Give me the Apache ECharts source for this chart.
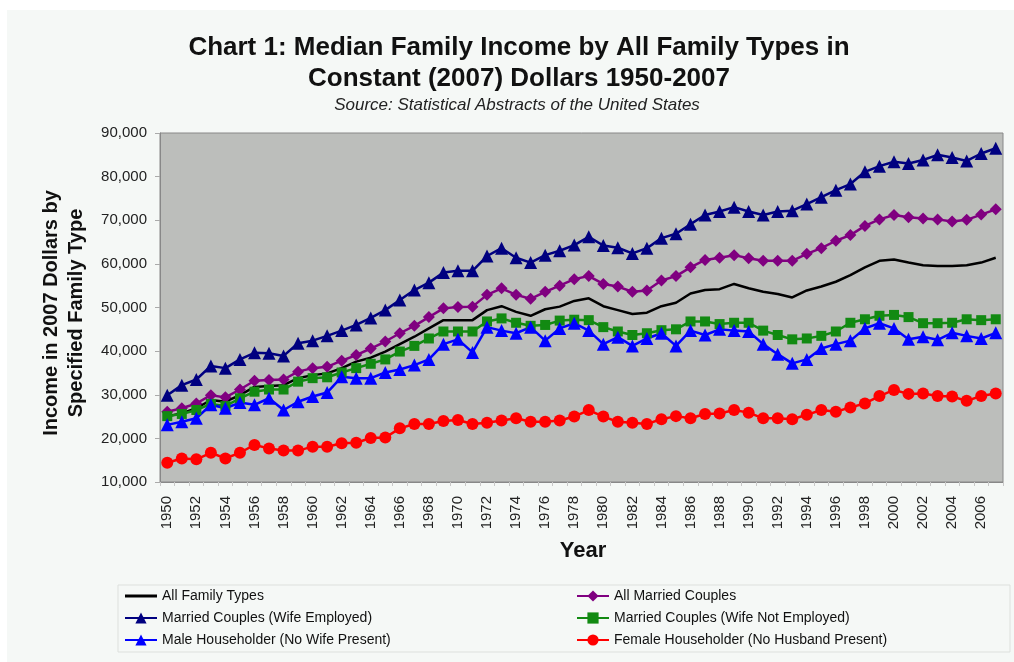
<!DOCTYPE html>
<html>
<head>
<meta charset="utf-8">
<script src="https://cdn.jsdelivr.net/npm/echarts@6/dist/echarts.min.js"></script>
<style>
html,body{margin:0;padding:0;background:#fff;}
#chart{width:1014px;height:662px;}
</style>
</head>
<body>
<div id="chart"></div>
<script>
const years = [];
for (let y = 1950; y <= 2007; y++) years.push(String(y));

const allFamilyTypes = [
  25100, 25700, 26900, 28800, 28400, 29900, 31800, 32000, 32200, 33800,
  34500, 34900, 36100, 37600, 38500, 39900, 41600, 43300, 45200, 47100,
  47100, 47100, 49400, 50300, 49000, 48100, 49600, 50200, 51500, 52100,
  50300, 49400, 48500, 48800, 50300, 51100, 53200, 54000, 54200, 55400,
  54400, 53600, 53100, 52300, 53900, 54800, 55900, 57400, 59200, 60700,
  61000, 60300, 59700, 59500, 59500, 59700, 60300, 61400
];
const allMarried = [
  26100, 26900, 28000, 29900, 29400, 31200, 33200, 33400, 33500, 35300,
  36100, 36400, 37800, 39100, 40600, 42200, 44100, 45800, 47800, 49800,
  50100, 50200, 52900, 54400, 52900, 52000, 53600, 55000, 56500, 57200,
  55400, 54800, 53600, 53900, 56200, 57200, 59200, 60900, 61400, 62000,
  61300, 60700, 60700, 60700, 62300, 63600, 65300, 66600, 68700, 70200,
  71200, 70700, 70400, 70200, 69700, 70100, 71300, 72500
];
const wifeEmployed = [
  29900, 32200, 33500, 36600, 36100, 38100, 39600, 39500, 38900, 41800,
  42400, 43500, 44700, 46000, 47600, 49400, 51700, 54000, 55700, 58000,
  58400, 58400, 61800, 63600, 61400, 60300, 62000, 63000, 64300, 66200,
  64200, 63700, 62400, 63600, 65900, 66900, 69100, 71200, 72000, 73000,
  72000, 71200, 72000, 72200, 73700, 75300, 76900, 78300, 81100, 82400,
  83400, 83000, 83800, 85000, 84400, 83600, 85300, 86500
];
const wifeNotEmployed = [
  25100, 25600, 26500, 27900, 27400, 29200, 30700, 31200, 31200, 33000,
  33800, 34000, 35100, 36100, 37100, 38100, 39900, 41200, 42900, 44500,
  44500, 44500, 46800, 47500, 46500, 45800, 46000, 47000, 47200, 47100,
  45500, 44500, 43700, 44100, 44800, 45000, 46800, 46800, 46200, 46500,
  46500, 44700, 43700, 42700, 42900, 43500, 44500, 46500, 47300, 48100,
  48300, 47800, 46400, 46400, 46500, 47300, 47100, 47300
];
const maleHouseholder = [
  23100, 23800, 24600, 27700, 26900, 28200, 27700, 29200, 26500, 28400,
  29600, 30500, 34100, 33800, 33800, 35100, 35800, 36800, 38100, 41600,
  42700, 39700, 45500, 44700, 44100, 45500, 42400, 45200, 46400, 44700,
  41600, 43200, 41200, 42900, 44100, 41200, 44700, 43700, 45000, 44700,
  44500, 41600, 39300, 37200, 38100, 40600, 41600, 42400, 45200, 46400,
  45200, 42700, 43300, 42600, 44200, 43500, 42900, 44200
];
const femaleHouseholder = [
  14400, 15400, 15200, 16700, 15400, 16700, 18500, 17700, 17200, 17200,
  18100, 18100, 18900, 19000, 20100, 20200, 22300, 23300, 23300, 24000,
  24200, 23300, 23600, 24100, 24600, 23800, 23800, 24100, 25000, 26500,
  25000, 23800, 23600, 23300, 24400, 25100, 24600, 25600, 25700, 26500,
  25900, 24600, 24600, 24400, 25400, 26500, 26100, 27100, 28000, 29700,
  31100, 30200, 30300, 29700, 29600, 28600, 29700, 30300
];

const seriesNames = [
  'All Family Types',
  'All Married Couples',
  'Married Couples (Wife Employed)',
  'Married Couples (Wife Not Employed)',
  'Male Householder (No Wife Present)',
  'Female Householder (No Husband Present)'
];

const FONT = '"Liberation Sans", Arial, sans-serif';

const chart = echarts.init(document.getElementById('chart'), null, {renderer: 'canvas'});

function mk(name, data, color, symbol, size) {
  return {
    name: name, type: 'line', data: data,
    symbol: symbol, symbolSize: size, showSymbol: symbol !== 'none', showAllSymbol: true,
    lineStyle: {color: color, width: 2.5},
    itemStyle: {color: color},
    emphasis: {disabled: true},
    animation: false
  };
}

const legendText = {fontSize: 14, color: '#111', fontFamily: FONT, lineHeight: 14};

chart.setOption({
  animation: false,
  backgroundColor: '#f5f8f6',
  textStyle: {fontFamily: FONT},
  title: [
    {
      text: 'Chart 1: Median Family Income by All Family Types in\nConstant (2007) Dollars 1950-2007',
      left: 519, top: 32, padding: 0, textAlign: 'center',
      textStyle: {fontFamily: FONT, fontSize: 26, fontWeight: 'bold', color: '#111', lineHeight: 31}
    },
    {
      text: 'Source: Statistical Abstracts of the United States',
      left: 517, top: 97, padding: 0, textAlign: 'center',
      textStyle: {fontFamily: FONT, fontSize: 17, fontStyle: 'italic', fontWeight: 'normal', color: '#222'}
    }
  ],
  grid: {
    left: 160, right: 11, top: 133, bottom: 180,
    show: true, backgroundColor: '#bcbebb', borderColor: '#888', borderWidth: 1
  },
  xAxis: {
    type: 'category', data: years, boundaryGap: true,
    axisLine: {lineStyle: {color: '#888'}},
    axisTick: {show: true, interval: 0, length: 4, lineStyle: {color: '#c8c8c8'}},
    axisLabel: {interval: 1, rotate: 90, fontSize: 15, color: '#222', margin: 14, fontFamily: FONT},
    splitLine: {show: false}
  },
  yAxis: {
    type: 'value', min: 10000, max: 90000, interval: 10000,
    axisLine: {show: true, lineStyle: {color: '#888'}},
    axisTick: {show: true, length: 5, lineStyle: {color: '#aaa'}},
    axisLabel: {fontSize: 15, color: '#222', margin: 13, fontFamily: FONT,
      formatter: function (v) { return v.toLocaleString('en-US'); }},
    splitLine: {show: false}
  },
  legend: [
    {
      orient: 'vertical', left: 124, top: 589, padding: 0, itemGap: 8,
      itemWidth: 32, itemHeight: 14, selectedMode: false,
      textStyle: legendText,
      data: [
        {name: seriesNames[0], icon: 'path://M0,0H32V3H0Z'},
        seriesNames[2], seriesNames[4]
      ]
    },
    {
      orient: 'vertical', left: 576, top: 589, padding: 0, itemGap: 8,
      itemWidth: 32, itemHeight: 14, selectedMode: false,
      textStyle: legendText,
      data: [seriesNames[1], seriesNames[3], seriesNames[5]]
    }
  ],
  graphic: [
    {type: 'rect', shape: {x: 0, y: 0, width: 1014, height: 10}, style: {fill: '#ffffff'}, silent: true},
    {type: 'rect', shape: {x: 0, y: 0, width: 7, height: 662}, style: {fill: '#ffffff'}, silent: true},
    {type: 'rect', shape: {x: 118, y: 585, width: 892, height: 67}, style: {fill: 'none', stroke: '#dde0dd', lineWidth: 1}, silent: true},
    {
      type: 'text', x: 64, y: 313, rotation: Math.PI / 2, silent: true,
      style: {
        text: 'Income in 2007 Dollars by\nSpecified Family Type',
        font: 'bold 20px ' + FONT, fill: '#111', textAlign: 'center', textVerticalAlign: 'middle', lineHeight: 25
      }
    },
    {
      type: 'text', x: 583, y: 551, silent: true,
      style: {text: 'Year', font: 'bold 22px ' + FONT, fill: '#111', textAlign: 'center', textVerticalAlign: 'middle'}
    }
  ],
  series: [
    mk(seriesNames[0], allFamilyTypes, '#000000', 'none', 0),
    mk(seriesNames[1], allMarried, '#800080', 'diamond', 12),
    mk(seriesNames[2], wifeEmployed, '#000080', 'triangle', 13),
    mk(seriesNames[3], wifeNotEmployed, '#128a12', 'rect', 10),
    mk(seriesNames[4], maleHouseholder, '#0000ff', 'triangle', 13),
    mk(seriesNames[5], femaleHouseholder, '#ff0000', 'circle', 12)
  ]
});
</script>
</body>
</html>
